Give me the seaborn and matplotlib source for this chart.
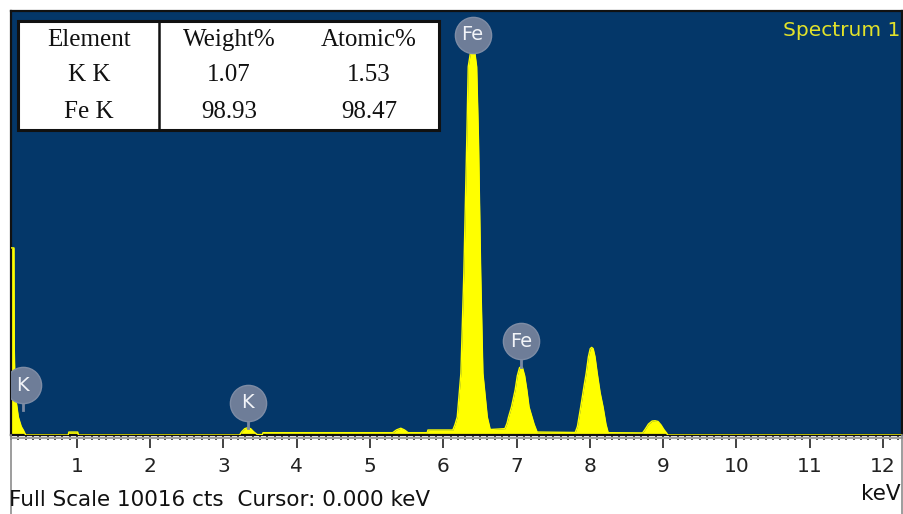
import numpy as np
import matplotlib
matplotlib.use("Agg")
import matplotlib.pyplot as plt
import seaborn as sns
from matplotlib.ticker import MultipleLocator
from matplotlib.lines import Line2D
from matplotlib.patches import Rectangle

# ==========================================
# DATA
# ==========================================

energy_kev = [0.10, 0.14, 0.145, 0.155, 0.168, 0.20, 0.24, 0.27, 0.30,
              0.88, 0.89, 1.01, 1.02,
              3.22, 3.25, 3.29, 3.33, 3.37, 3.41, 3.46, 3.53, 3.54,
              5.31, 5.36, 5.42, 5.47, 5.52, 5.78, 5.79,
              6.13, 6.16, 6.19, 6.24, 6.28, 6.32, 6.34, 6.37, 6.40, 6.43, 6.455, 6.48,
              6.51, 6.54, 6.60, 6.64,
              6.84, 6.87, 6.89, 6.93, 6.98, 7.01, 7.04, 7.06, 7.08, 7.11, 7.14, 7.17,
              7.21, 7.24, 7.28,
              7.80, 7.83, 7.875, 7.92, 7.95, 7.98, 8.005, 8.025, 8.045, 8.07, 8.10,
              8.14, 8.18, 8.22, 8.25,
              8.72, 8.76, 8.80, 8.85, 8.89, 8.93, 8.97, 9.01, 9.05, 9.06, 12.26]
counts = [4420, 4420, 2000, 1100, 827, 425, 200, 110, 0,
          0, 70, 70, 0,
          0, 80, 150, 172, 150, 80, 10, 10, 55,
          55, 120, 160, 120, 55, 55, 118,
          118, 250, 425, 1463, 3824, 6966, 8700, 9030, 9050, 9030, 8700, 6966,
          3824, 1463, 425, 130,
          150, 280, 425, 661, 1062, 1400, 1590, 1612, 1590, 1400, 1062, 661,
          425, 250, 70,
          60, 200, 661, 1150, 1463, 1850, 2040, 2070, 2040, 1850, 1463,
          1000, 661, 250, 55,
          50, 150, 260, 330, 337, 320, 240, 130, 40, 0, 0]

peak_labels = ["Fe", "Fe", "K", "K"]
peak_energy = [6.40, 7.06, 0.26, 3.33]
peak_top = [9050, 1612, 590, 172]
label_height = [9450, 2220, 1180, 760]

table_header = ["Element", "Weight%", "Atomic%"]
table_elements = ["K K", "Fe K"]
table_weight = ["1.07", "98.93"]
table_atomic = ["1.53", "98.47"]

full_scale = 10016
x_ticks = list(range(1, 13))

# ==========================================
# FIGURE
# ==========================================

W, H = 904, 514
fig = plt.figure(figsize=(W / 100, H / 100), dpi=100)
fig.patch.set_facecolor("white")

def fx(x):
    return x / W

def fy(y):
    return 1 - y / H

ax = fig.add_axes([fx(11), fy(435), fx(902) - fx(11), fy(11) - fy(435)])
ax.set_facecolor("#043769")

yellow = "#FFFF00"
ax.fill_between(energy_kev, counts, color=yellow, linewidth=0, zorder=2)
sns.lineplot(x=energy_kev, y=counts, color=yellow, linewidth=1, ax=ax, zorder=3)

ax.set_xlim(0.10, 12.26)
ax.set_ylim(0, full_scale)

# peak markers
for lab, e, top, h in zip(peak_labels, peak_energy, peak_top, label_height):
    ax.plot([e, e], [top, h], color="#7B8AA3", linewidth=2, zorder=4)
    ax.scatter([e], [h], s=680, color="#6E7D98", edgecolor="#7E8CA5",
               linewidth=1, zorder=5, clip_on=True)
    ax.text(e, h, lab, color="#F2F4F8", fontsize=14, ha="center", va="center",
            zorder=6, family="DejaVu Sans")

ax.text(0.998, 0.955, "Spectrum 1", transform=ax.transAxes, ha="right", va="center",
        color="#E2E22A", fontsize=14.5, family="DejaVu Sans")

# axis styling
ax.set_yticks([])
ax.set_xticks(x_ticks)
ax.set_xticklabels([str(t) for t in x_ticks], fontsize=14.5, color="#222222",
                   family="DejaVu Sans")
ax.xaxis.set_minor_locator(MultipleLocator(0.1))
ax.tick_params(axis="x", which="major", direction="out", length=9, width=1.2,
               color="#222222", pad=7)
ax.tick_params(axis="x", which="minor", direction="out", length=3.5, width=1.2,
               color="#333333")
ax.set_xlabel("")
ax.set_ylabel("")
for side in ["top", "left", "right", "bottom"]:
    ax.spines[side].set_color("#111111")
    ax.spines[side].set_linewidth(1.6)

# frame lines below the plot
fig.add_artist(Line2D([fx(11), fx(902)], [fy(437.5), fy(437.5)], color="#A0A0A0",
                      linewidth=1.5))
fig.add_artist(Line2D([fx(10.5), fx(10.5)], [fy(435), fy(514)], color="#8C8C8C",
                      linewidth=1.2))
fig.add_artist(Line2D([fx(902), fx(902)], [fy(435), fy(514)], color="#8C8C8C",
                      linewidth=1.2))

# ==========================================
# RESULT TABLE
# ==========================================

fig.add_artist(Rectangle((fx(18), fy(130)), fx(439) - fx(18), fy(21) - fy(130),
                         facecolor="white", edgecolor="#111111", linewidth=2.2,
                         zorder=10))
fig.add_artist(Line2D([fx(159), fx(159)], [fy(130), fy(21)], color="#111111",
                      linewidth=1.8, zorder=11))

col_x = [89, 229, 369]
row_y = [40, 75, 112]
rows = [table_header] + [[a, b, c] for a, b, c in zip(table_elements, table_weight, table_atomic)]
for r, row in enumerate(rows):
    for c, txt in enumerate(row):
        fig.text(fx(col_x[c]), fy(row_y[r]), txt, ha="center", va="center",
                 fontsize=18, family="Liberation Serif", color="#111111", zorder=12)

# ==========================================
# FOOTER TEXT
# ==========================================

fig.text(fx(9), fy(500), "Full Scale 10016 cts  Cursor: 0.000 keV", ha="left",
         va="center", fontsize=15.5, family="DejaVu Sans", color="#111111")
fig.text(fx(901), fy(494), "keV", ha="right", va="center", fontsize=15.5,
         family="DejaVu Sans", color="#111111")

plt.savefig("out.png", dpi=100)
